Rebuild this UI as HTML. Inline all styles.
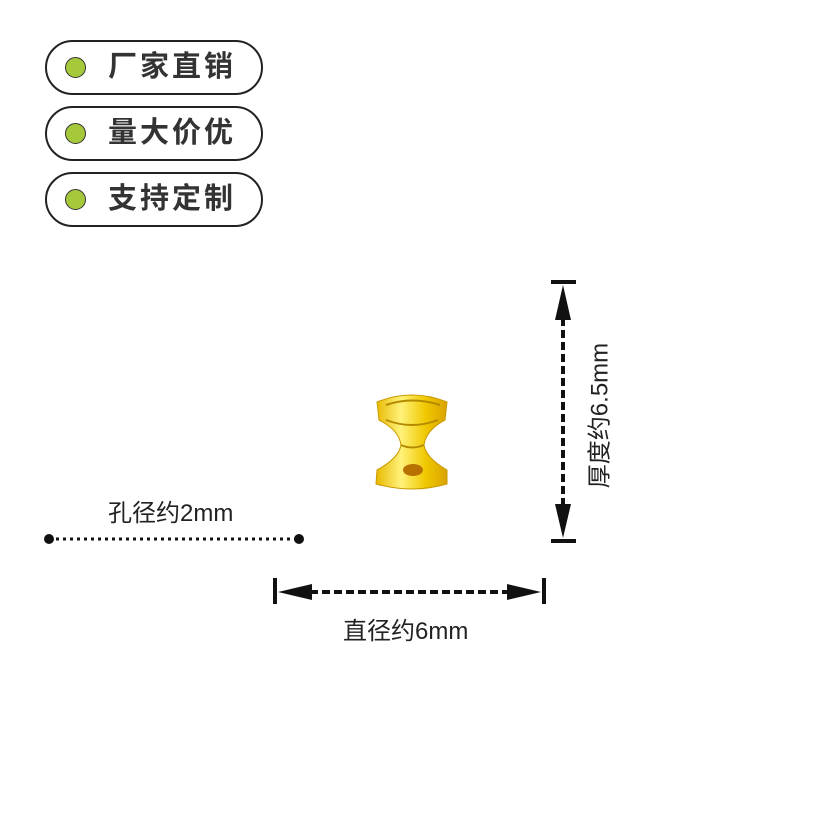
<!DOCTYPE html>
<html><head><meta charset="utf-8"><style>
body{margin:0;background:#fff;width:828px;height:828px;overflow:hidden;position:relative;font-family:"Liberation Sans","Noto Sans CJK SC",sans-serif;}
.pill{position:absolute;left:45px;width:214px;height:51px;border:2px solid #222;border-radius:28px;}
.dot{position:absolute;left:18px;top:15px;width:19px;height:19px;border-radius:50%;background:#a6c93c;border:1.5px solid #333;}
.pt{position:absolute;left:61px;top:5px;font-size:29px;font-weight:bold;color:#333;letter-spacing:3px;line-height:40px;}
.lbl{position:absolute;font-size:24px;color:#222;white-space:nowrap;}
</style></head><body>
<div class="pill" style="top:40px"><div class="dot"></div><div class="pt">厂家直销</div></div>
<div class="pill" style="top:106px"><div class="dot"></div><div class="pt">量大价优</div></div>
<div class="pill" style="top:172px"><div class="dot"></div><div class="pt">支持定制</div></div>
<svg width="828" height="828" style="position:absolute;left:0;top:0">
<defs><linearGradient id="g" x1="0" x2="1"><stop offset="0" stop-color="#e8b800"/><stop offset=".35" stop-color="#fff27a"/><stop offset=".7" stop-color="#f0c800"/><stop offset="1" stop-color="#d9a300"/></linearGradient></defs>
<path d="M377,402 Q412,388 447,402 L445,420 Q426,430 424,445 Q426,458 447,470 L447,484 Q412,494 376,484 L377,470 Q399,458 401,445 Q399,430 379,420 Z" fill="url(#g)" stroke="#c99a00" stroke-width="1"/>
<path d="M386,405 Q412,396 440,405 M386,420 Q412,430 438,420 M401,445 Q412,450 424,445" stroke="#b58a00" stroke-width="2" fill="none"/>
<ellipse cx="413" cy="470" rx="10" ry="6" fill="#b87000"/>
<line x1="49" y1="539" x2="299" y2="539" stroke="#111" stroke-width="3" stroke-dasharray="3,4"/>
<circle cx="49" cy="539" r="5" fill="#111"/><circle cx="299" cy="539" r="5" fill="#111"/>
<line x1="275" y1="578" x2="275" y2="604" stroke="#111" stroke-width="4"/>
<line x1="544" y1="578" x2="544" y2="604" stroke="#111" stroke-width="4"/>
<line x1="310" y1="592" x2="510" y2="592" stroke="#111" stroke-width="4" stroke-dasharray="8,4"/>
<polygon points="278,592 312,584 312,600" fill="#111"/>
<polygon points="541,592 507,584 507,600" fill="#111"/>
<line x1="551" y1="282" x2="576" y2="282" stroke="#111" stroke-width="4"/>
<line x1="551" y1="541" x2="576" y2="541" stroke="#111" stroke-width="4"/>
<line x1="563" y1="318" x2="563" y2="508" stroke="#111" stroke-width="4" stroke-dasharray="8,4"/>
<polygon points="563,285 555,320 571,320" fill="#111"/>
<polygon points="563,538 555,504 571,504" fill="#111"/>
</svg>
<div class="lbl" style="left:108px;top:493px">孔径约2mm</div>
<div class="lbl" style="left:343px;top:611px">直径约6mm</div>
<div class="lbl" style="left:517px;top:398px;width:160px;text-align:center;transform:rotate(-90deg);">厚度约6.5mm</div>
</body></html>
